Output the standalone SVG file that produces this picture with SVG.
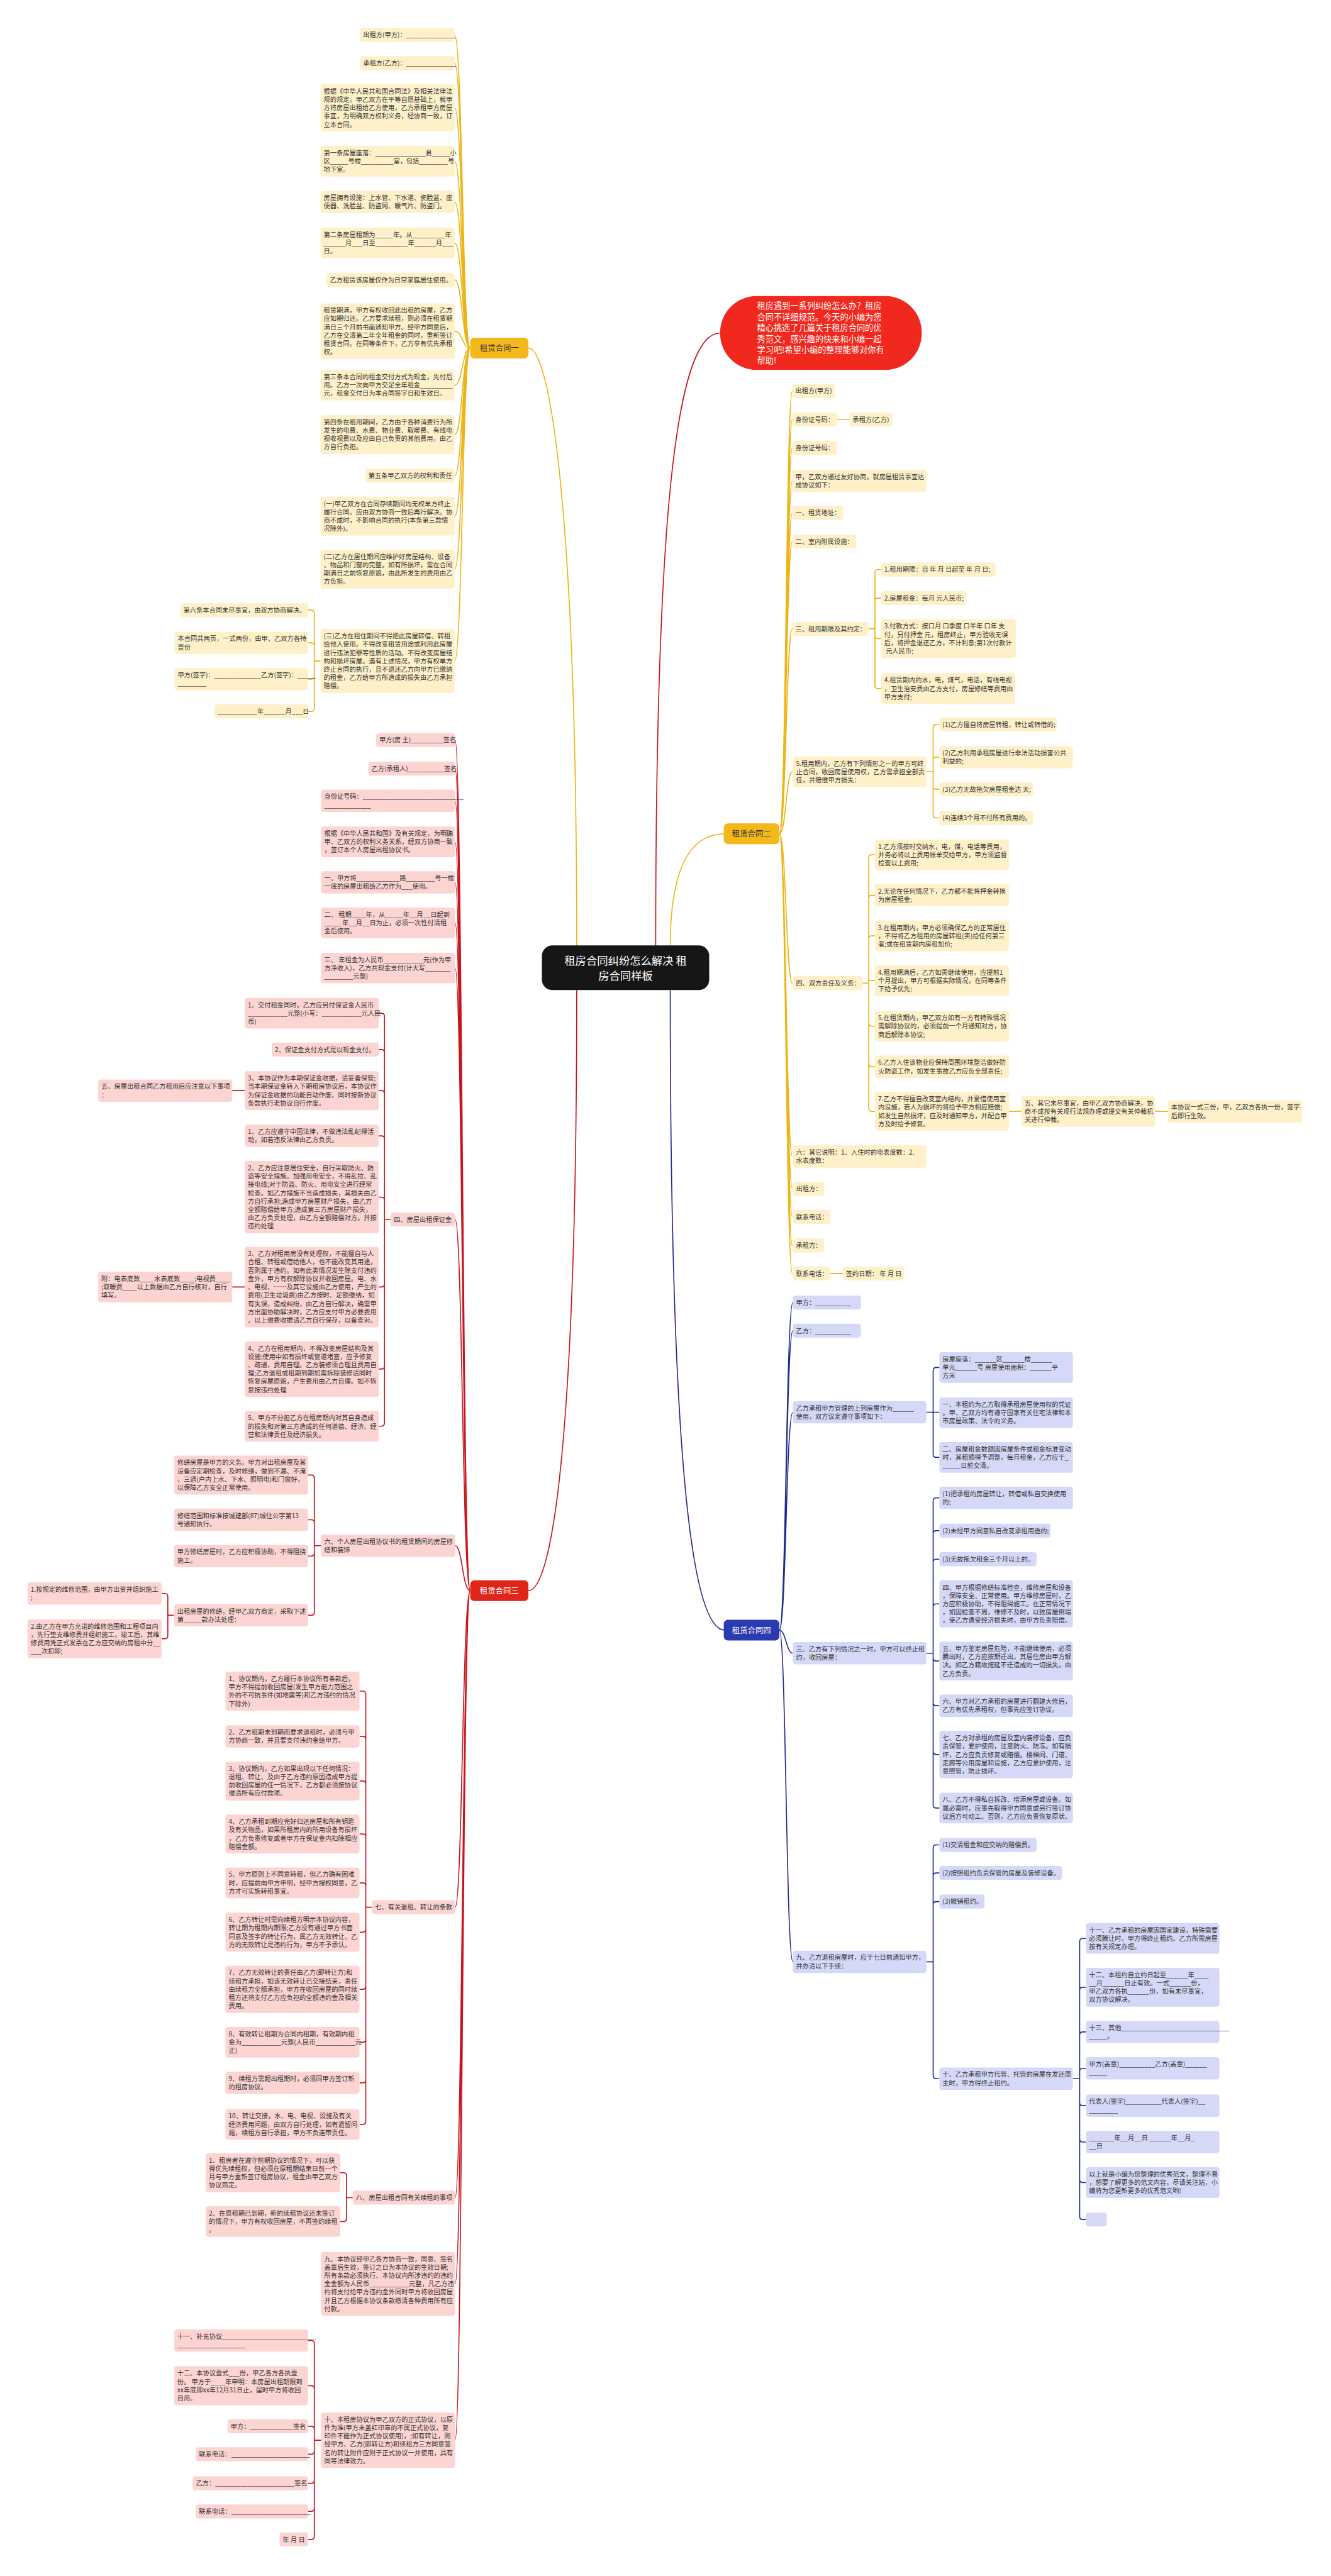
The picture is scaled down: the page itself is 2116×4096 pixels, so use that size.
<svg xmlns="http://www.w3.org/2000/svg" width="2116" height="4096" viewBox="0 0 2116 4096">
<style>
text{font-family:"Noto Sans CJK SC","Noto Sans",sans-serif;font-size:12.4px;fill:#333}
.ny rect{fill:#FEF1C9}
.nr rect{fill:#FCD5D2}
.nb rect{fill:#D5D9F7}
.cy{fill:none;stroke:#EDB413;stroke-width:2}
.cr{fill:none;stroke:#C8141C;stroke-width:2}
.cb{fill:none;stroke:#1F2B8E;stroke-width:2}
.br text{font-size:15px;text-anchor:middle}
</style>
<rect width="2116" height="4096" fill="#fff"/>
<g transform="scale(0.826)">
<g id="connectors">
<path class="cy" stroke-width="3.5" d="M1110,1822 C1110,1000 1060,670 1017,670"/>
<path class="cy" stroke-width="3.5" d="M1290,1822 C1290,1650 1340,1605 1395,1605"/>
<path class="cr" stroke-width="3.5" d="M1110,1906 C1110,2800 1060,3062 1017,3062"/>
<path class="cb" stroke-width="3.5" d="M1290,1906 C1290,2900 1340,3138 1395,3138"/>
<path class="cr" stroke-width="1.5" d="M1262,1822 C1262,1000 1300,641 1386,641"/>
<path class="cy" d="M905,670 C890,670 890,67.5 875,67.5 M905,670 C890,670 890,121.5 875,121.5 M905,670 C890,670 890,207.5 875,207.5 M905,670 C890,670 890,310.5 875,310.5 M905,670 C890,670 890,388.5 875,388.5 M905,670 C890,670 890,467.5 875,467.5 M905,670 C890,670 890,538.5 875,538.5 M905,670 C890,670 890,637.5 875,637.5 M905,670 C890,670 890,741.5 875,741.5 M905,670 C890,670 890,836.5 875,836.5 M905,670 C890,670 890,915.5 875,915.5 M905,670 C890,670 890,993.5 875,993.5 M905,670 C890,670 890,1095.5 875,1095.5 M905,670 C890,670 890,1272.5 875,1272.5"/>
<path class="cy" d="M617,1272.5 H605 V1180.5 Q605,1174.5 599,1174.5 H593 M617,1272.5 H605 V1243.5 Q605,1237.5 599,1237.5 H593 M617,1272.5 H605 V1301.5 Q605,1307.5 599,1307.5 H593 M617,1272.5 H605 V1363.5 Q605,1369.5 599,1369.5 H593"/>
<path class="cy" d="M1500,1605 C1513,1605 1513,752.5 1525,752.5 M1500,1605 C1513,1605 1513,807.5 1525,807.5 M1500,1605 C1513,1605 1513,862.5 1525,862.5 M1500,1605 C1513,1605 1513,925.5 1525,925.5 M1500,1605 C1513,1605 1513,987.5 1525,987.5 M1500,1605 C1513,1605 1513,1042.5 1525,1042.5 M1500,1605 C1513,1605 1513,1210.5 1525,1210.5 M1500,1605 C1513,1605 1513,1485.5 1525,1485.5 M1500,1605 C1513,1605 1513,1892.5 1525,1892.5 M1500,1605 C1513,1605 1513,2226.5 1525,2226.5 M1500,1605 C1513,1605 1513,2288.5 1525,2288.5 M1500,1605 C1513,1605 1513,2342.5 1525,2342.5 M1500,1605 C1513,1605 1513,2397.5 1525,2397.5 M1500,1605 C1513,1605 1513,2451.5 1525,2451.5"/>
<path class="cy" d="M1611,807.5 H1635 M1942,2139.5 H1966 M2223,2139.5 H2248 M1598,2451.5 H1622"/>
<path class="cy" d="M1672,1210.5 H1684 V1102.5 Q1684,1096.5 1690,1096.5 H1696 M1672,1210.5 H1684 V1157.5 Q1684,1151.5 1690,1151.5 H1696 M1672,1210.5 H1684 V1223.5 Q1684,1229.5 1690,1229.5 H1696 M1672,1210.5 H1684 V1319.5 Q1684,1325.5 1690,1325.5 H1696"/>
<path class="cy" d="M1783,1485.5 H1796 V1400.5 Q1796,1394.5 1802,1394.5 H1808 M1783,1485.5 H1796 V1463.5 Q1796,1457.5 1802,1457.5 H1808 M1783,1485.5 H1796 V1513.5 Q1796,1519.5 1802,1519.5 H1808 M1783,1485.5 H1796 V1568.5 Q1796,1574.5 1802,1574.5 H1808"/>
<path class="cy" d="M1660,1892.5 H1672 V1651.5 Q1672,1645.5 1678,1645.5 H1684 M1660,1892.5 H1672 V1729.5 Q1672,1723.5 1678,1723.5 H1684 M1660,1892.5 H1672 V1807.5 Q1672,1801.5 1678,1801.5 H1684 M1660,1892.5 H1672 V1887.5 H1684 M1660,1892.5 H1672 V1969.5 Q1672,1975.5 1678,1975.5 H1684 M1660,1892.5 H1672 V2047.5 Q1672,2053.5 1678,2053.5 H1684 M1660,1892.5 H1672 V2133.5 Q1672,2139.5 1678,2139.5 H1684"/>
<path class="cr" d="M905,3062 C890,3062 890,1424.5 876,1424.5 M905,3062 C890,3062 890,1479.5 876,1479.5 M905,3062 C890,3062 890,1541.5 876,1541.5 M905,3062 C890,3062 890,1620.5 876,1620.5 M905,3062 C890,3062 890,1698.5 876,1698.5 M905,3062 C890,3062 890,1776.5 876,1776.5 M905,3062 C890,3062 890,1863.5 876,1863.5 M905,3062 C890,3062 890,2347.5 876,2347.5 M905,3062 C890,3062 890,2975.5 876,2975.5 M905,3062 C890,3062 890,3671.5 876,3671.5 M905,3062 C890,3062 890,4230.5 876,4230.5 M905,3062 C890,3062 890,4396.5 876,4396.5 M905,3062 C890,3062 890,4697.5 876,4697.5"/>
<path class="cr" d="M752,2347.5 H740 V1956.5 Q740,1950.5 734,1950.5 H729 M752,2347.5 H740 V2026.5 Q740,2020.5 734,2020.5 H729 M752,2347.5 H740 V2105.5 Q740,2099.5 734,2099.5 H729 M752,2347.5 H740 V2192.5 Q740,2186.5 734,2186.5 H729 M752,2347.5 H740 V2310.5 Q740,2304.5 734,2304.5 H729 M752,2347.5 H740 V2471.5 Q740,2477.5 734,2477.5 H729 M752,2347.5 H740 V2629.5 Q740,2635.5 734,2635.5 H729 M752,2347.5 H740 V2739.5 Q740,2745.5 734,2745.5 H729"/>
<path class="cr" d="M471,2099.5 H447 M471,2477.5 H447"/>
<path class="cr" d="M618,2975.5 H605 V2845.5 Q605,2839.5 599,2839.5 H593 M618,2975.5 H605 V2931.5 Q605,2925.5 599,2925.5 H593 M618,2975.5 H605 V2989.5 Q605,2995.5 599,2995.5 H593 M618,2975.5 H605 V3103.5 Q605,3109.5 599,3109.5 H593"/>
<path class="cr" d="M335,3109.5 H323 V3073.5 Q323,3067.5 317,3067.5 H311 M335,3109.5 H323 V3148.5 Q323,3154.5 317,3154.5 H311"/>
<path class="cr" d="M716,3671.5 H704 V3261.5 Q704,3255.5 698,3255.5 H692 M716,3671.5 H704 V3348.5 Q704,3342.5 698,3342.5 H692 M716,3671.5 H704 V3434.5 Q704,3428.5 698,3428.5 H692 M716,3671.5 H704 V3536.5 Q704,3530.5 698,3530.5 H692 M716,3671.5 H704 V3630.5 Q704,3624.5 698,3624.5 H692 M716,3671.5 H704 V3713.5 Q704,3719.5 698,3719.5 H692 M716,3671.5 H704 V3823.5 Q704,3829.5 698,3829.5 H692 M716,3671.5 H704 V3925.5 Q704,3931.5 698,3931.5 H692 M716,3671.5 H704 V4003.5 Q704,4009.5 698,4009.5 H692 M716,3671.5 H704 V4083.5 Q704,4089.5 698,4089.5 H692"/>
<path class="cr" d="M679,4230.5 H667 V4188.5 Q667,4182.5 661,4182.5 H655 M679,4230.5 H667 V4270.5 Q667,4276.5 661,4276.5 H655"/>
<path class="cr" d="M618,4697.5 H605 V4511.5 Q605,4505.5 599,4505.5 H593 M618,4697.5 H605 V4598.5 Q605,4592.5 599,4592.5 H593 M618,4697.5 H605 V4676.5 Q605,4670.5 599,4670.5 H593 M618,4697.5 H605 V4718.5 Q605,4724.5 599,4724.5 H593 M618,4697.5 H605 V4774.5 Q605,4780.5 599,4780.5 H593 M618,4697.5 H605 V4828.5 Q605,4834.5 599,4834.5 H593 M618,4697.5 H605 V4882.5 Q605,4888.5 599,4888.5 H593"/>
<path class="cb" d="M1500,3138 C1513,3138 1513,2507.5 1526,2507.5 M1500,3138 C1513,3138 1513,2561.5 1526,2561.5 M1500,3138 C1513,3138 1513,2718.5 1526,2718.5 M1500,3138 C1513,3138 1513,3182.5 1526,3182.5 M1500,3138 C1513,3138 1513,3776.5 1526,3776.5"/>
<path class="cb" d="M1783,2718.5 H1796 V2638.5 Q1796,2632.5 1802,2632.5 H1808 M1783,2718.5 H1808 M1783,2718.5 H1796 V2799.5 Q1796,2805.5 1802,2805.5 H1808"/>
<path class="cb" d="M1783,3182.5 H1796 V2889.5 Q1796,2883.5 1802,2883.5 H1808 M1783,3182.5 H1796 V2952.5 Q1796,2946.5 1802,2946.5 H1808 M1783,3182.5 H1796 V3007.5 Q1796,3001.5 1802,3001.5 H1808 M1783,3182.5 H1796 V3093.5 Q1796,3087.5 1802,3087.5 H1808 M1783,3182.5 H1796 V3191.5 Q1796,3197.5 1802,3197.5 H1808 M1783,3182.5 H1796 V3277.5 Q1796,3283.5 1802,3283.5 H1808 M1783,3182.5 H1796 V3371.5 Q1796,3377.5 1802,3377.5 H1808 M1783,3182.5 H1796 V3474.5 Q1796,3480.5 1802,3480.5 H1808"/>
<path class="cb" d="M1783,3776.5 H1796 V3557.5 Q1796,3551.5 1802,3551.5 H1808 M1783,3776.5 H1796 V3611.5 Q1796,3605.5 1802,3605.5 H1808 M1783,3776.5 H1796 V3666.5 Q1796,3660.5 1802,3660.5 H1808 M1783,3776.5 H1796 V3995.5 Q1796,4001.5 1802,4001.5 H1808"/>
<path class="cb" d="M2065,4001.5 H2078 V3737.5 Q2078,3731.5 2084,3731.5 H2090 M2065,4001.5 H2078 V3831.5 Q2078,3825.5 2084,3825.5 H2090 M2065,4001.5 H2078 V3917.5 Q2078,3911.5 2084,3911.5 H2090 M2065,4001.5 H2078 V3987.5 Q2078,3981.5 2084,3981.5 H2090 M2065,4001.5 H2078 V4047.5 Q2078,4053.5 2084,4053.5 H2090 M2065,4001.5 H2078 V4117.5 Q2078,4123.5 2084,4123.5 H2090 M2065,4001.5 H2078 V4195.5 Q2078,4201.5 2084,4201.5 H2090 M2065,4001.5 H2078 V4266.5 Q2078,4272.5 2084,4272.5 H2090"/>
</g>

<g id="center"><rect x="1043" y="1820" width="322" height="86" rx="20" fill="#161616"/><text x="1204" y="1857" text-anchor="middle" style="font-size:21px;fill:#fff"><tspan x="1204">租房合同纠纷怎么解决 租</tspan><tspan x="1204" dy="29">房合同样板</tspan></text></g>
<g id="callout"><rect x="1386" y="570" width="388" height="142" rx="70" fill="#F0281E"/><text x="1457" y="595" style="font-size:16px;fill:#fff"><tspan x="1457">租房遇到一系列纠纷怎么办？租房</tspan><tspan x="1457" dy="21">合同不详细规范。今天的小编为您</tspan><tspan x="1457" dy="21">精心挑选了几篇关于租房合同的优</tspan><tspan x="1457" dy="21">秀范文，感兴趣的快来和小编一起</tspan><tspan x="1457" dy="21">学习吧!希望小编的整理能够对你有</tspan><tspan x="1457" dy="21">帮助!</tspan></text></g>

<g id="branch1" class="br"><rect x="905" y="650" width="112" height="40" rx="8" fill="#F3B81B"/><text x="961" y="675.5">租赁合同一</text></g>
<g id="branch2" class="br"><rect x="1393" y="1585" width="107" height="40" rx="8" fill="#F3B81B"/><text x="1446.5" y="1610.5">租赁合同二</text></g>
<g id="branch3" class="br"><rect x="905" y="3042" width="112" height="40" rx="8" fill="#E0251B"/><text x="961" y="3067.5" style="fill:#fff">租赁合同三</text></g>
<g id="branch4" class="br"><rect x="1393" y="3118" width="107" height="40" rx="8" fill="#2A3AB0"/><text x="1446.5" y="3143.5" style="fill:#fff">租赁合同四</text></g>

<g id="a1" class="ny"><rect x="693" y="54" width="182" height="27" rx="5"/><text x="699" y="72">出租方(甲方)：______________</text></g>
<g id="a2" class="ny"><rect x="693" y="108" width="182" height="27" rx="5"/><text x="699" y="126">承租方(乙方)：______________</text></g>
<g id="a3" class="ny"><rect x="617" y="162" width="258" height="91" rx="5"/><text x="623" y="180"><tspan x="623">根据《中华人民共和国合同法》及相关法律法</tspan><tspan x="623" dy="16">规的规定。甲乙双方在平等自愿基础上，就甲</tspan><tspan x="623" dy="16">方将房屋出租给乙方使用，乙方承租甲方房屋</tspan><tspan x="623" dy="16">事宜，为明确双方权利义务，经协商一致，订</tspan><tspan x="623" dy="16">立本合同。</tspan></text></g>
<g id="a4" class="ny"><rect x="617" y="281" width="258" height="59" rx="5"/><text x="623" y="299"><tspan x="623">第一条房屋座落：______________县_____小</tspan><tspan x="623" dy="16">区_____号楼_________室，包括________号</tspan><tspan x="623" dy="16">地下室。</tspan></text></g>
<g id="a5" class="ny"><rect x="617" y="367" width="258" height="43" rx="5"/><text x="623" y="385"><tspan x="623">房屋拥有设施：上水管、下水道、瓷脸盆、座</tspan><tspan x="623" dy="16">便器、洗脸盆、防盗网、暖气片、防盗门。</tspan></text></g>
<g id="a6" class="ny"><rect x="617" y="438" width="258" height="59" rx="5"/><text x="623" y="456"><tspan x="623">第二条房屋租期为_____年。从_________年</tspan><tspan x="623" dy="16">______月___日至_________年______月___</tspan><tspan x="623" dy="16">日。</tspan></text></g>
<g id="a7" class="ny"><rect x="629" y="525" width="246" height="27" rx="5"/><text x="635" y="543">乙方租赁该房屋仅作为日常家庭居住使用。</text></g>
<g id="a8" class="ny"><rect x="617" y="584" width="258" height="107" rx="5"/><text x="623" y="602"><tspan x="623">租赁期满，甲方有权收回此出租的房屋，乙方</tspan><tspan x="623" dy="16">应如期归还。乙方要求续租，则必须在租赁期</tspan><tspan x="623" dy="16">满日三个月前书面通知甲方。经甲方同意后，</tspan><tspan x="623" dy="16">乙方在交清第二年全年租金的同时，重新签订</tspan><tspan x="623" dy="16">租赁合同。在同等条件下，乙方享有优先承租</tspan><tspan x="623" dy="16">权。</tspan></text></g>
<g id="a9" class="ny"><rect x="617" y="712" width="258" height="59" rx="5"/><text x="623" y="730"><tspan x="623">第三条本合同的租金交付方式为现金，先付后</tspan><tspan x="623" dy="16">用。乙方一次向甲方交足全年租金_________</tspan><tspan x="623" dy="16">元，租金交付日为本合同签字日和生效日。</tspan></text></g>
<g id="a10" class="ny"><rect x="617" y="799" width="258" height="75" rx="5"/><text x="623" y="817"><tspan x="623">第四条在租用期间，乙方由于各种消费行为所</tspan><tspan x="623" dy="16">发生的电费、水费、物业费、取暖费、有线电</tspan><tspan x="623" dy="16">视收视费以及应由自己负责的其他费用，由乙</tspan><tspan x="623" dy="16">方自行负担。</tspan></text></g>
<g id="a11" class="ny"><rect x="703" y="902" width="172" height="27" rx="5"/><text x="709" y="920">第五条甲乙双方的权利和责任</text></g>
<g id="a12" class="ny"><rect x="617" y="956" width="258" height="75" rx="5"/><text x="623" y="974"><tspan x="623">(一)甲乙双方在合同存续期间均无权单方终止</tspan><tspan x="623" dy="16">履行合同。应由双方协商一致后再行解决。协</tspan><tspan x="623" dy="16">商不成时，不影响合同的执行(本条第三款情</tspan><tspan x="623" dy="16">况除外)。</tspan></text></g>
<g id="a13" class="ny"><rect x="617" y="1058" width="258" height="75" rx="5"/><text x="623" y="1076"><tspan x="623">(二)乙方在居住期间应维护好房屋结构、设备</tspan><tspan x="623" dy="16">、物品和门窗的完整。如有所损坏，需在合同</tspan><tspan x="623" dy="16">期满日之前恢复原貌，由此所发生的费用由乙</tspan><tspan x="623" dy="16">方负担。</tspan></text></g>
<g id="a14" class="ny"><rect x="617" y="1211" width="258" height="123" rx="5"/><text x="623" y="1229"><tspan x="623">(三)乙方在租住期间不得把此房屋转借、转租</tspan><tspan x="623" dy="16">给他人使用。不得改变租赁用途或利用此房屋</tspan><tspan x="623" dy="16">进行违法犯罪等性质的活动。不得改变房屋结</tspan><tspan x="623" dy="16">构和损坏房屋。遇有上述情况，甲方有权单方</tspan><tspan x="623" dy="16">终止合同的执行，且不退还乙方向甲方已缴纳</tspan><tspan x="623" dy="16">的租金，乙方给甲方所造成的损失由乙方承担</tspan><tspan x="623" dy="16">赔偿。</tspan></text></g>
<g id="a14a" class="ny"><rect x="347" y="1161" width="246" height="27" rx="5"/><text x="353" y="1179">第六条本合同未尽事宜，由双方协商解决。</text></g>
<g id="a14b" class="ny"><rect x="336" y="1216" width="257" height="43" rx="5"/><text x="342" y="1234"><tspan x="342">本合同共两页，一式两份，由甲、乙双方各持</tspan><tspan x="342" dy="16">壹份</tspan></text></g>
<g id="a14c" class="ny"><rect x="336" y="1286" width="257" height="43" rx="5"/><text x="342" y="1304"><tspan x="342">甲方(签字)：_____________乙方(签字)：_____</tspan><tspan x="342" dy="16">________</tspan></text></g>
<g id="a14d" class="ny"><rect x="413" y="1356" width="180" height="27" rx="5"/><text x="419" y="1374">___________年______月___日</text></g>

<g id="b1" class="ny"><rect x="1525" y="739" width="82" height="27" rx="5"/><text x="1531" y="757">出租方(甲方)</text></g>
<g id="b2" class="ny"><rect x="1525" y="794" width="86" height="27" rx="5"/><text x="1531" y="812">身份证号码：</text></g>
<g id="b2c" class="ny"><rect x="1635" y="794" width="82" height="27" rx="5"/><text x="1641" y="812">承租方(乙方)</text></g>
<g id="b3" class="ny"><rect x="1525" y="849" width="86" height="27" rx="5"/><text x="1531" y="867">身份证号码：</text></g>
<g id="b4" class="ny"><rect x="1525" y="904" width="258" height="43" rx="5"/><text x="1531" y="922"><tspan x="1531">甲，乙双方通过友好协商，就房屋租赁事宜达</tspan><tspan x="1531" dy="16">成协议如下：</tspan></text></g>
<g id="b5" class="ny"><rect x="1525" y="974" width="98" height="27" rx="5"/><text x="1531" y="992">一、租赁地址：</text></g>
<g id="b6" class="ny"><rect x="1525" y="1029" width="123" height="27" rx="5"/><text x="1531" y="1047">二、室内附属设施：</text></g>
<g id="b7" class="ny"><rect x="1525" y="1197" width="147" height="27" rx="5"/><text x="1531" y="1215">三、租用期限及其约定：</text></g>
<g id="b7a" class="ny"><rect x="1696" y="1083" width="220" height="27" rx="5"/><text x="1702" y="1101">1.租用期限：自 年 月 日起至 年 月 日;</text></g>
<g id="b7b" class="ny"><rect x="1696" y="1138" width="164" height="27" rx="5"/><text x="1702" y="1156">2.房屋租金：每月 元人民币;</text></g>
<g id="b7c" class="ny"><rect x="1696" y="1192" width="259" height="75" rx="5"/><text x="1702" y="1210"><tspan x="1702">3.付款方式：按口月 口季度 口半年 口年 支</tspan><tspan x="1702" dy="16">付，另付押金 元，租房终止，甲方验收无误</tspan><tspan x="1702" dy="16">后，将押金退还乙方，不计利息;第1次付款计</tspan><tspan x="1702" dy="16"> 元人民币;</tspan></text></g>
<g id="b7d" class="ny"><rect x="1696" y="1296" width="258" height="59" rx="5"/><text x="1702" y="1314"><tspan x="1702">4.租赁期内的水，电，煤气，电话，有线电视</tspan><tspan x="1702" dy="16">，卫生治安费由乙方支付，房屋修缮等费用由</tspan><tspan x="1702" dy="16">甲方支付;</tspan></text></g>
<g id="b8" class="ny"><rect x="1526" y="1456" width="257" height="59" rx="5"/><text x="1532" y="1474"><tspan x="1532">5.租用期内，乙方有下列情形之一的甲方可终</tspan><tspan x="1532" dy="16">止合同，收回房屋使用权，乙方需承担全部责</tspan><tspan x="1532" dy="16">任，并赔偿甲方损失：</tspan></text></g>
<g id="b8a" class="ny"><rect x="1808" y="1381" width="226" height="27" rx="5"/><text x="1814" y="1399">(1)乙方擅自将房屋转租，转让或转借的;</text></g>
<g id="b8b" class="ny"><rect x="1808" y="1436" width="257" height="43" rx="5"/><text x="1814" y="1454"><tspan x="1814">(2)乙方利用承租房屋进行非法活动损害公共</tspan><tspan x="1814" dy="16">利益的;</tspan></text></g>
<g id="b8c" class="ny"><rect x="1808" y="1506" width="180" height="27" rx="5"/><text x="1814" y="1524">(3)乙方无故拖欠房屋租金达 天;</text></g>
<g id="b8d" class="ny"><rect x="1808" y="1561" width="180" height="27" rx="5"/><text x="1814" y="1579">(4)连续3个月不付所有费用的。</text></g>
<g id="b9" class="ny"><rect x="1526" y="1879" width="134" height="27" rx="5"/><text x="1532" y="1897">四、双方责任及义务：</text></g>
<g id="b9a" class="ny"><rect x="1684" y="1616" width="258" height="59" rx="5"/><text x="1690" y="1634"><tspan x="1690">1.乙方须按时交纳水，电，煤，电话等费用，</tspan><tspan x="1690" dy="16">并务必将以上费用帐单交给甲方，甲方须监督</tspan><tspan x="1690" dy="16">检查以上费用;</tspan></text></g>
<g id="b9b" class="ny"><rect x="1684" y="1702" width="258" height="43" rx="5"/><text x="1690" y="1720"><tspan x="1690">2.无论在任何情况下，乙方都不能将押金转换</tspan><tspan x="1690" dy="16">为房屋租金;</tspan></text></g>
<g id="b9c" class="ny"><rect x="1684" y="1772" width="258" height="59" rx="5"/><text x="1690" y="1790"><tspan x="1690">3.在租用期内，甲方必须确保乙方的正常居住</tspan><tspan x="1690" dy="16">，不得将乙方租用的房屋转租(卖)给任何第三</tspan><tspan x="1690" dy="16">者;或在租赁期内房租加价;</tspan></text></g>
<g id="b9d" class="ny"><rect x="1684" y="1858" width="258" height="59" rx="5"/><text x="1690" y="1876"><tspan x="1690">4.租用期满后，乙方如需继续使用，应提前1</tspan><tspan x="1690" dy="16">个月提出，甲方可根据实际情况，在同等条件</tspan><tspan x="1690" dy="16">下给予优先;</tspan></text></g>
<g id="b9e" class="ny"><rect x="1684" y="1946" width="258" height="59" rx="5"/><text x="1690" y="1964"><tspan x="1690">5.在租赁期内，甲乙双方如有一方有特殊情况</tspan><tspan x="1690" dy="16">需解除协议的，必须提前一个月通知对方，协</tspan><tspan x="1690" dy="16">商后解除本协议;</tspan></text></g>
<g id="b9f" class="ny"><rect x="1684" y="2032" width="258" height="43" rx="5"/><text x="1690" y="2050"><tspan x="1690">6.乙方入住该物业应保持周围环境整洁做好防</tspan><tspan x="1690" dy="16">火防盗工作，如发生事故乙方应负全部责任;</tspan></text></g>
<g id="b9g" class="ny"><rect x="1684" y="2102" width="258" height="75" rx="5"/><text x="1690" y="2120"><tspan x="1690">7.乙方不得擅自改变室内结构，并爱惜使用室</tspan><tspan x="1690" dy="16">内设施，若人为损坏的将给予甲方相应赔偿;</tspan><tspan x="1690" dy="16">如发生自然损坏，应及时通知甲方，并配合甲</tspan><tspan x="1690" dy="16">方及时给予修复。</tspan></text></g>
<g id="b9g1" class="ny"><rect x="1966" y="2110" width="257" height="59" rx="5"/><text x="1972" y="2128"><tspan x="1972">五、其它未尽事宜，由甲乙双方协商解决，协</tspan><tspan x="1972" dy="16">商不成按有关现行法规办理或提交有关仲裁机</tspan><tspan x="1972" dy="16">关进行仲裁。</tspan></text></g>
<g id="b9g2" class="ny"><rect x="2248" y="2118" width="258" height="43" rx="5"/><text x="2254" y="2136"><tspan x="2254">本协议一式三份，甲，乙双方各执一份，签字</tspan><tspan x="2254" dy="16">后即行生效。</tspan></text></g>
<g id="b10" class="ny"><rect x="1526" y="2205" width="257" height="43" rx="5"/><text x="1532" y="2223"><tspan x="1532">六：其它说明：1、入住时的电表度数：2.</tspan><tspan x="1532" dy="16">水表度数：</tspan></text></g>
<g id="b11" class="ny"><rect x="1526" y="2275" width="60" height="27" rx="5"/><text x="1532" y="2293">出租方：</text></g>
<g id="b12" class="ny"><rect x="1526" y="2329" width="72" height="27" rx="5"/><text x="1532" y="2347">联系电话：</text></g>
<g id="b13" class="ny"><rect x="1526" y="2384" width="60" height="27" rx="5"/><text x="1532" y="2402">承租方：</text></g>
<g id="b14" class="ny"><rect x="1526" y="2438" width="72" height="27" rx="5"/><text x="1532" y="2456">联系电话：</text></g>
<g id="b14c" class="ny"><rect x="1622" y="2438" width="118" height="27" rx="5"/><text x="1628" y="2456">签约日期：  年  月  日</text></g>

<g id="c1" class="nr"><rect x="724" y="1411" width="152" height="27" rx="5"/><text x="730" y="1429">甲方(房 主)_________签名</text></g>
<g id="c2" class="nr"><rect x="709" y="1466" width="167" height="27" rx="5"/><text x="715" y="1484">乙方(承租人)__________签名</text></g>
<g id="c3" class="nr"><rect x="618" y="1520" width="258" height="43" rx="5"/><text x="624" y="1538"><tspan x="624">身份证号码：____________________________</tspan><tspan x="624" dy="16">_____________</tspan></text></g>
<g id="c4" class="nr"><rect x="618" y="1591" width="258" height="59" rx="5"/><text x="624" y="1609"><tspan x="624">根据《中华人民共和国》及有关规定，为明确</tspan><tspan x="624" dy="16">甲、乙双方的权利义务关系，经双方协商一致</tspan><tspan x="624" dy="16">，签订本个人房屋出租协议书。</tspan></text></g>
<g id="c5" class="nr"><rect x="618" y="1677" width="258" height="43" rx="5"/><text x="624" y="1695"><tspan x="624">一、甲方将____________路________号一楼</tspan><tspan x="624" dy="16">一底的房屋出租给乙方作为___使用。</tspan></text></g>
<g id="c6" class="nr"><rect x="618" y="1747" width="258" height="59" rx="5"/><text x="624" y="1765"><tspan x="624">二、 租期____年，从_____年__月__日起到</tspan><tspan x="624" dy="16">_____年__月__日为止，必须一次性付清租</tspan><tspan x="624" dy="16">金后使用。</tspan></text></g>
<g id="c7" class="nr"><rect x="618" y="1834" width="258" height="59" rx="5"/><text x="624" y="1852"><tspan x="624">三、 年租金为人民币___________元(作为甲</tspan><tspan x="624" dy="16">方净收入)，乙方共现金支付(计大写_______</tspan><tspan x="624" dy="16">________元整)</tspan></text></g>
<g id="c8" class="nr"><rect x="752" y="2334" width="124" height="27" rx="5"/><text x="758" y="2352">四、房屋出租保证金</text></g>
<g id="c8a" class="nr"><rect x="471" y="1921" width="258" height="59" rx="5"/><text x="477" y="1939"><tspan x="477">1、交付租金同时，乙方应另付保证金人民币</tspan><tspan x="477" dy="16">___________元整(小写：___________元人民</tspan><tspan x="477" dy="16">币)</tspan></text></g>
<g id="c8b" class="nr"><rect x="523" y="2007" width="206" height="27" rx="5"/><text x="529" y="2025">2、保证金支付方式是以现金支付。</text></g>
<g id="c8c" class="nr"><rect x="471" y="2062" width="258" height="75" rx="5"/><text x="477" y="2080"><tspan x="477">3、本协议作为本期保证金收据，请妥善保管;</tspan><tspan x="477" dy="16">当本期保证金转入下期租房协议后，本协议作</tspan><tspan x="477" dy="16">为保证金收据的功能自动作废、同时按新协议</tspan><tspan x="477" dy="16">条款执行老协议自行作废。</tspan></text></g>
<g id="c8c1" class="nr"><rect x="189" y="2078" width="258" height="43" rx="5"/><text x="195" y="2096"><tspan x="195">五、房屋出租合同乙方租用后应注意以下事项</tspan><tspan x="195" dy="16">：</tspan></text></g>
<g id="c8d" class="nr"><rect x="471" y="2165" width="258" height="43" rx="5"/><text x="477" y="2183"><tspan x="477">1、乙方应遵守中国法律，不做违法乱纪得活</tspan><tspan x="477" dy="16">动，如若违反法律由乙方负责。</tspan></text></g>
<g id="c8e" class="nr"><rect x="471" y="2235" width="258" height="139" rx="5"/><text x="477" y="2253"><tspan x="477">2、乙方应注意居住安全，自行采取防火、防</tspan><tspan x="477" dy="16">盗等安全措施。加强用电安全，不得乱拉、乱</tspan><tspan x="477" dy="16">接电线;对于防盗、防火、用电安全进行经常</tspan><tspan x="477" dy="16">检查。如乙方措施不当造成损失，其损失由乙</tspan><tspan x="477" dy="16">方自行承担;造成甲方房屋财产损失，由乙方</tspan><tspan x="477" dy="16">全额赔偿给甲方;造成第三方房屋财产损失，</tspan><tspan x="477" dy="16">由乙方负责处理，由乙方全额赔偿对方。并按</tspan><tspan x="477" dy="16">违约处理</tspan></text></g>
<g id="c8f" class="nr"><rect x="471" y="2400" width="258" height="155" rx="5"/><text x="477" y="2418"><tspan x="477">3、乙方对租用房没有处理权，不能擅自与人</tspan><tspan x="477" dy="16">合租、转租或借给他人，也不能改变其用途，</tspan><tspan x="477" dy="16">否则属于违约。如有此类情况发生除支付违约</tspan><tspan x="477" dy="16">金外，甲方有权解除协议并收回房屋。电、水</tspan><tspan x="477" dy="16">、电视、……及其它设施由乙方使用，产生的</tspan><tspan x="477" dy="16">费用(卫生垃圾费)由乙方按时、足额缴纳，如</tspan><tspan x="477" dy="16">有失误，造成纠纷，由乙方自行解决，确需甲</tspan><tspan x="477" dy="16">方出面协助解决时，乙方应支付甲方必要费用</tspan><tspan x="477" dy="16">。以上缴费收据请乙方自行保存，以备查对。</tspan></text></g>
<g id="c8f1" class="nr"><rect x="189" y="2448" width="258" height="59" rx="5"/><text x="195" y="2466"><tspan x="195">附：电表底数____水表底数____;电视费____</tspan><tspan x="195" dy="16">;取暖费____以上数据由乙方自行核对，自行</tspan><tspan x="195" dy="16">填写。</tspan></text></g>
<g id="c8g" class="nr"><rect x="471" y="2582" width="258" height="107" rx="5"/><text x="477" y="2600"><tspan x="477">4、乙方在租用期内，不得改变房屋结构及其</tspan><tspan x="477" dy="16">设施;使用中如有损坏或管道堵塞，应予修复</tspan><tspan x="477" dy="16">、疏通，费用自理。乙方装修须合理且费用自</tspan><tspan x="477" dy="16">理;乙方退租或租期到期如需拆除装修请同时</tspan><tspan x="477" dy="16">恢复房屋原貌，产生费用由乙方自理。如不恢</tspan><tspan x="477" dy="16">复按违约处理</tspan></text></g>
<g id="c8h" class="nr"><rect x="471" y="2716" width="258" height="59" rx="5"/><text x="477" y="2734"><tspan x="477">5、甲方不分担乙方在租房期内对其自身造成</tspan><tspan x="477" dy="16">的损失和对第三方造成的任何道德、经济、经</tspan><tspan x="477" dy="16">营和法律责任及经济损失。</tspan></text></g>
<g id="c9" class="nr"><rect x="618" y="2954" width="258" height="43" rx="5"/><text x="624" y="2972"><tspan x="624">六、个人房屋出租协议书的租赁期间的房屋修</tspan><tspan x="624" dy="16">缮和装饰</tspan></text></g>
<g id="c9a" class="nr"><rect x="335" y="2802" width="258" height="75" rx="5"/><text x="341" y="2820"><tspan x="341">修缮房屋是甲方的义务。甲方对出租房屋及其</tspan><tspan x="341" dy="16">设备应定期检查，及时修缮，做到不漏、不淹</tspan><tspan x="341" dy="16">、三通(户内上水、下水、照明电)和门窗好，</tspan><tspan x="341" dy="16">以保障乙方安全正常使用。</tspan></text></g>
<g id="c9b" class="nr"><rect x="335" y="2904" width="258" height="43" rx="5"/><text x="341" y="2922"><tspan x="341">修缮范围和标准按城建部(87)城住公字第13</tspan><tspan x="341" dy="16">号通知执行。</tspan></text></g>
<g id="c9c" class="nr"><rect x="335" y="2974" width="258" height="43" rx="5"/><text x="341" y="2992"><tspan x="341">甲方修缮房屋时，乙方应积极协助，不得阻挠</tspan><tspan x="341" dy="16">施工。</tspan></text></g>
<g id="c9d" class="nr"><rect x="335" y="3088" width="258" height="43" rx="5"/><text x="341" y="3106"><tspan x="341">出租房屋的修缮，经甲乙双方商定，采取下述</tspan><tspan x="341" dy="16">第_____款办法处理：</tspan></text></g>
<g id="c9d1" class="nr"><rect x="53" y="3046" width="258" height="43" rx="5"/><text x="59" y="3064"><tspan x="59">1.按规定的维修范围，由甲方出资并组织施工</tspan><tspan x="59" dy="16">;</tspan></text></g>
<g id="c9d2" class="nr"><rect x="53" y="3117" width="258" height="75" rx="5"/><text x="59" y="3135"><tspan x="59">2.由乙方在甲方允诺的维修范围和工程项目内</tspan><tspan x="59" dy="16">，先行垫支维修费并组织施工，竣工后，其维</tspan><tspan x="59" dy="16">修费用凭正式发票在乙方应交纳的房租中分__</tspan><tspan x="59" dy="16">___次扣除;</tspan></text></g>
<g id="c10" class="nr"><rect x="716" y="3658" width="160" height="27" rx="5"/><text x="722" y="3676">七、有关退租、转让的条款</text></g>
<g id="c10a" class="nr"><rect x="434" y="3218" width="258" height="75" rx="5"/><text x="440" y="3236"><tspan x="440">1、协议期内，乙方履行本协议所有条款后，</tspan><tspan x="440" dy="16">甲方不得提前收回房屋(发生甲方能力范围之</tspan><tspan x="440" dy="16">外的不可抗事件(如地震等)和乙方违约的情况</tspan><tspan x="440" dy="16">下除外)</tspan></text></g>
<g id="c10b" class="nr"><rect x="434" y="3321" width="258" height="43" rx="5"/><text x="440" y="3339"><tspan x="440">2、乙方租期未到期而要求退租时，必须与甲</tspan><tspan x="440" dy="16">方协商一致，并且要支付违约金给甲方。</tspan></text></g>
<g id="c10c" class="nr"><rect x="434" y="3391" width="258" height="75" rx="5"/><text x="440" y="3409"><tspan x="440">3、协议期内，乙方如果出现以下任何情况：</tspan><tspan x="440" dy="16">退租、转让、及由于乙方违约原因造成甲方提</tspan><tspan x="440" dy="16">前收回房屋的任一情况下，乙方都必须按协议</tspan><tspan x="440" dy="16">缴清所有应付款项。</tspan></text></g>
<g id="c10d" class="nr"><rect x="434" y="3493" width="258" height="75" rx="5"/><text x="440" y="3511"><tspan x="440">4、乙方承租到期应完好归还房屋和所有钥匙</tspan><tspan x="440" dy="16">及有关物品，如果所租房内的所用设备有损坏</tspan><tspan x="440" dy="16">，乙方负责修复或者甲方在保证金内扣除相应</tspan><tspan x="440" dy="16">赔偿金额。</tspan></text></g>
<g id="c10e" class="nr"><rect x="434" y="3595" width="258" height="59" rx="5"/><text x="440" y="3613"><tspan x="440">5、甲方原则上不同意转租，但乙方确有困难</tspan><tspan x="440" dy="16">时，应提前向甲方申明，经甲方授权同意，乙</tspan><tspan x="440" dy="16">方才可实施转租事宜。</tspan></text></g>
<g id="c10f" class="nr"><rect x="434" y="3682" width="258" height="75" rx="5"/><text x="440" y="3700"><tspan x="440">6、乙方转让时需向续租方明示本协议内容，</tspan><tspan x="440" dy="16">转让期为租期内期限;乙方没有通过甲方书面</tspan><tspan x="440" dy="16">同意及签字的转让行为，属乙方无效转让、乙</tspan><tspan x="440" dy="16">方的无效转让是违约行为，甲方不予承认。</tspan></text></g>
<g id="c10g" class="nr"><rect x="434" y="3784" width="258" height="91" rx="5"/><text x="440" y="3802"><tspan x="440">7、乙方无效转让的责任由乙方(即转让方)和</tspan><tspan x="440" dy="16">续租方承担，如该无效转让已交接结束，责任</tspan><tspan x="440" dy="16">由续租方全额承担，甲方在收回房屋的同时续</tspan><tspan x="440" dy="16">租方还将支付乙方应负担的全额违约金及相关</tspan><tspan x="440" dy="16">费用。</tspan></text></g>
<g id="c10h" class="nr"><rect x="434" y="3902" width="258" height="59" rx="5"/><text x="440" y="3920"><tspan x="440">8、有效转让租期为合同内租期，有效期内租</tspan><tspan x="440" dy="16">金为___________元整(人民币___________元</tspan><tspan x="440" dy="16">正)</tspan></text></g>
<g id="c10i" class="nr"><rect x="434" y="3988" width="258" height="43" rx="5"/><text x="440" y="4006"><tspan x="440">9、续租方需超出租期时，必须同甲方签订新</tspan><tspan x="440" dy="16">的租房协议。</tspan></text></g>
<g id="c10j" class="nr"><rect x="434" y="4060" width="258" height="59" rx="5"/><text x="440" y="4078"><tspan x="440">10、转让交接，水、电、电视、设施及有关</tspan><tspan x="440" dy="16">经济费用问题，由双方自行处理，如有遗留问</tspan><tspan x="440" dy="16">题，续租方自行承担，甲方不负连带责任。</tspan></text></g>
<g id="c11" class="nr"><rect x="679" y="4217" width="197" height="27" rx="5"/><text x="685" y="4235">八、房屋出租合同有关续租的事项</text></g>
<g id="c11a" class="nr"><rect x="396" y="4145" width="259" height="75" rx="5"/><text x="402" y="4163"><tspan x="402">1、租房者在遵守前期协议的情况下，可以获</tspan><tspan x="402" dy="16">得优先续租权，但必须在原租期结束日前一个</tspan><tspan x="402" dy="16">月与甲方重新签订租房协议，租金由甲乙双方</tspan><tspan x="402" dy="16">协议商定。</tspan></text></g>
<g id="c11b" class="nr"><rect x="396" y="4247" width="259" height="59" rx="5"/><text x="402" y="4265"><tspan x="402">2、在原租期已到期，新的续租协议还未签订</tspan><tspan x="402" dy="16">的情况下，甲方有权收回房屋，不再签约续租</tspan><tspan x="402" dy="16">。</tspan></text></g>
<g id="c12" class="nr"><rect x="618" y="4335" width="258" height="123" rx="5"/><text x="624" y="4353"><tspan x="624">九、本协议经甲乙各方协商一致，同意、签名</tspan><tspan x="624" dy="16">盖章后生效，签订之日为本协议的生效日期;</tspan><tspan x="624" dy="16">所有条款必须执行、本协议内所涉违约的违约</tspan><tspan x="624" dy="16">金金额为人民币___________元整，凡乙方违</tspan><tspan x="624" dy="16">约将支付给甲方违约金外同时甲方将收回房屋</tspan><tspan x="624" dy="16">并且乙方根据本协议条款缴清各种费用所有应</tspan><tspan x="624" dy="16">付款。</tspan></text></g>
<g id="c13" class="nr"><rect x="618" y="4644" width="258" height="107" rx="5"/><text x="624" y="4662"><tspan x="624">十、本租房协议为甲乙双方的正式协议，以原</tspan><tspan x="624" dy="16">件为准(甲方未盖红印章的不属正式协议，复</tspan><tspan x="624" dy="16">印件不能作为正式协议使用)，;如有转让，则</tspan><tspan x="624" dy="16">经甲方、乙方(即转让方)和续租方三方同意签</tspan><tspan x="624" dy="16">名的转让附件应附于正式协议一并使用，具有</tspan><tspan x="624" dy="16">同等法律效力。</tspan></text></g>
<g id="c13a" class="nr"><rect x="335" y="4484" width="258" height="43" rx="5"/><text x="341" y="4502"><tspan x="341">十一、补充协议__________________________</tspan><tspan x="341" dy="16">___________________</tspan></text></g>
<g id="c13b" class="nr"><rect x="335" y="4555" width="258" height="75" rx="5"/><text x="341" y="4573"><tspan x="341">十二、本协议壹式___份，甲乙各方各执壹</tspan><tspan x="341" dy="16">份。 甲方于____年申明：本房屋出租期限到</tspan><tspan x="341" dy="16">xx年底即xx年12月31日止，届时甲方将收回</tspan><tspan x="341" dy="16">自用。</tspan></text></g>
<g id="c13c" class="nr"><rect x="438" y="4657" width="155" height="27" rx="5"/><text x="444" y="4675">甲方：____________签名</text></g>
<g id="c13d" class="nr"><rect x="377" y="4711" width="216" height="27" rx="5"/><text x="383" y="4729">联系电话：______________________</text></g>
<g id="c13e" class="nr"><rect x="371" y="4767" width="222" height="27" rx="5"/><text x="377" y="4785">乙方：______________________签名</text></g>
<g id="c13f" class="nr"><rect x="377" y="4821" width="216" height="27" rx="5"/><text x="383" y="4839">联系电话：______________________</text></g>
<g id="c13g" class="nr"><rect x="538" y="4875" width="55" height="27" rx="5"/><text x="544" y="4893">年 月 日</text></g>

<g id="d1" class="nb"><rect x="1526" y="2494" width="131" height="27" rx="5"/><text x="1532" y="2512">甲方：__________</text></g>
<g id="d2" class="nb"><rect x="1526" y="2548" width="131" height="27" rx="5"/><text x="1532" y="2566">乙方：__________</text></g>
<g id="d3" class="nb"><rect x="1526" y="2697" width="257" height="43" rx="5"/><text x="1532" y="2715"><tspan x="1532">乙方承租甲方管理的上列房屋作为______</tspan><tspan x="1532" dy="16">使用，双方议定遵守事项如下：</tspan></text></g>
<g id="d3a" class="nb"><rect x="1808" y="2603" width="257" height="59" rx="5"/><text x="1814" y="2621"><tspan x="1814">房屋座落：______区______楼______</tspan><tspan x="1814" dy="16">单元______号 房屋使用面积：______平</tspan><tspan x="1814" dy="16">方米</tspan></text></g>
<g id="d3b" class="nb"><rect x="1808" y="2690" width="257" height="59" rx="5"/><text x="1814" y="2708"><tspan x="1814">一、本租约为乙方取得承租房屋使用权的凭证</tspan><tspan x="1814" dy="16">。甲、乙双方均有遵守国家有关住宅法律和本</tspan><tspan x="1814" dy="16">市房屋政策、法令的义务。</tspan></text></g>
<g id="d3c" class="nb"><rect x="1808" y="2776" width="257" height="59" rx="5"/><text x="1814" y="2794"><tspan x="1814">二、房屋租金数额因房屋条件或租金标准变动</tspan><tspan x="1814" dy="16">时，其租额得予调整，每月租金，乙方应于_</tspan><tspan x="1814" dy="16">_____日前交清。</tspan></text></g>
<g id="d4" class="nb"><rect x="1526" y="3161" width="257" height="43" rx="5"/><text x="1532" y="3179"><tspan x="1532">三、乙方有下列情况之一时，甲方可以终止租</tspan><tspan x="1532" dy="16">约，收回房屋：</tspan></text></g>
<g id="d4a" class="nb"><rect x="1808" y="2862" width="257" height="43" rx="5"/><text x="1814" y="2880"><tspan x="1814">(1)把承租的房屋转让，转借或私自交换使用</tspan><tspan x="1814" dy="16">的;</tspan></text></g>
<g id="d4b" class="nb"><rect x="1808" y="2933" width="214" height="27" rx="5"/><text x="1814" y="2951">(2)未经甲方同意私自改变承租用途的;</text></g>
<g id="d4c" class="nb"><rect x="1808" y="2988" width="187" height="27" rx="5"/><text x="1814" y="3006">(3)无故拖欠租金三个月以上的。</text></g>
<g id="d4d" class="nb"><rect x="1808" y="3042" width="257" height="91" rx="5"/><text x="1814" y="3060"><tspan x="1814">四、甲方根据修缮标准检查，维修房屋和设备</tspan><tspan x="1814" dy="16">，保障安全、正常使用。甲方维修房屋时，乙</tspan><tspan x="1814" dy="16">方应积极协助，不得阻碍施工。在正常情况下</tspan><tspan x="1814" dy="16">，如因检查不周，维修不及时，以致房屋倒塌</tspan><tspan x="1814" dy="16">，使乙方遭受经济损失时，由甲方负责赔偿。</tspan></text></g>
<g id="d4e" class="nb"><rect x="1808" y="3160" width="257" height="75" rx="5"/><text x="1814" y="3178"><tspan x="1814">五、甲方鉴定房屋危险，不能继续使用，必须</tspan><tspan x="1814" dy="16">腾出时，乙方应按期迁出，其居住房由甲方解</tspan><tspan x="1814" dy="16">决。如乙方籍故拖延不迁造成的一切损失，由</tspan><tspan x="1814" dy="16">乙方负责。</tspan></text></g>
<g id="d4f" class="nb"><rect x="1808" y="3262" width="257" height="43" rx="5"/><text x="1814" y="3280"><tspan x="1814">六、甲方对乙方承租的房屋进行翻建大修后，</tspan><tspan x="1814" dy="16">乙方有优先承租权，但事先应签订协议。</tspan></text></g>
<g id="d4g" class="nb"><rect x="1808" y="3332" width="257" height="91" rx="5"/><text x="1814" y="3350"><tspan x="1814">七、乙方对承租的房屋及室内装修设备，应负</tspan><tspan x="1814" dy="16">责保管，爱护使用，注意防火、防冻。如有损</tspan><tspan x="1814" dy="16">坏，乙方应负责修复或赔偿。楼梯间、门道、</tspan><tspan x="1814" dy="16">走廊等公用房屋和设施，乙方应爱护使用，注</tspan><tspan x="1814" dy="16">意照管，防止损坏。</tspan></text></g>
<g id="d4h" class="nb"><rect x="1808" y="3451" width="257" height="59" rx="5"/><text x="1814" y="3469"><tspan x="1814">八、乙方不得私自拆改、增添房屋或设备。如</tspan><tspan x="1814" dy="16">属必需时，应事先取得甲方同意或另行签订协</tspan><tspan x="1814" dy="16">议后方可动工。否则，乙方应负责恢复原状。</tspan></text></g>
<g id="d5" class="nb"><rect x="1526" y="3755" width="257" height="43" rx="5"/><text x="1532" y="3773"><tspan x="1532">九、乙方退租房屋时，应于七日前通知甲方，</tspan><tspan x="1532" dy="16">并办清以下手续：</tspan></text></g>
<g id="d5a" class="nb"><rect x="1808" y="3538" width="187" height="27" rx="5"/><text x="1814" y="3556">(1)交清租金和应交纳的赔偿费。</text></g>
<g id="d5b" class="nb"><rect x="1808" y="3592" width="236" height="27" rx="5"/><text x="1814" y="3610">(2)按照租约负责保管的房屋及装修设备。</text></g>
<g id="d5c" class="nb"><rect x="1808" y="3647" width="87" height="27" rx="5"/><text x="1814" y="3665">(3)撤销租约。</text></g>
<g id="d5d" class="nb"><rect x="1808" y="3980" width="257" height="43" rx="5"/><text x="1814" y="3998"><tspan x="1814">十、乙方承租甲方代管、托管的房屋在发还原</tspan><tspan x="1814" dy="16">主时，甲方得终止租约。</tspan></text></g>
<g id="e1" class="nb"><rect x="2090" y="3702" width="257" height="59" rx="5"/><text x="2096" y="3720"><tspan x="2096">十一、乙方承租的房屋因国家建设，特殊需要</tspan><tspan x="2096" dy="16">必须腾让时，甲方得终止租约。乙方所需房屋</tspan><tspan x="2096" dy="16">按有关规定办理。</tspan></text></g>
<g id="e2" class="nb"><rect x="2090" y="3788" width="257" height="75" rx="5"/><text x="2096" y="3806"><tspan x="2096">十二、本租约自立约日起至______年____</tspan><tspan x="2096" dy="16">__月______日止有效。一式______份，</tspan><tspan x="2096" dy="16">甲乙双方各执______份，如有未尽事宜，</tspan><tspan x="2096" dy="16">双方协议解决。</tspan></text></g>
<g id="e3" class="nb"><rect x="2090" y="3890" width="257" height="43" rx="5"/><text x="2096" y="3908"><tspan x="2096">十三、其他______________________________</tspan><tspan x="2096" dy="16">_____。</tspan></text></g>
<g id="e4" class="nb"><rect x="2090" y="3960" width="257" height="43" rx="5"/><text x="2096" y="3978"><tspan x="2096">甲方(盖章)__________乙方(盖章)______</tspan><tspan x="2096" dy="16">_____</tspan></text></g>
<g id="e5" class="nb"><rect x="2090" y="4032" width="257" height="43" rx="5"/><text x="2096" y="4050"><tspan x="2096">代表人(签字)__________代表人(签字)__</tspan><tspan x="2096" dy="16">________</tspan></text></g>
<g id="e6" class="nb"><rect x="2090" y="4102" width="257" height="43" rx="5"/><text x="2096" y="4120"><tspan x="2096">_______年__月__日 ______年__月_</tspan><tspan x="2096" dy="16">__日</tspan></text></g>
<g id="e7" class="nb"><rect x="2090" y="4172" width="257" height="59" rx="5"/><text x="2096" y="4190"><tspan x="2096">以上就是小编为您整理的优秀范文，整理不易</tspan><tspan x="2096" dy="16">，想要了解更多的范文内容，尽请关注站，小</tspan><tspan x="2096" dy="16">编将为您更新更多的优秀范文哟!</tspan></text></g>
<g id="e8" class="nb"><rect x="2090" y="4259" width="40" height="27" rx="5"/></g>
</g>
</svg>
